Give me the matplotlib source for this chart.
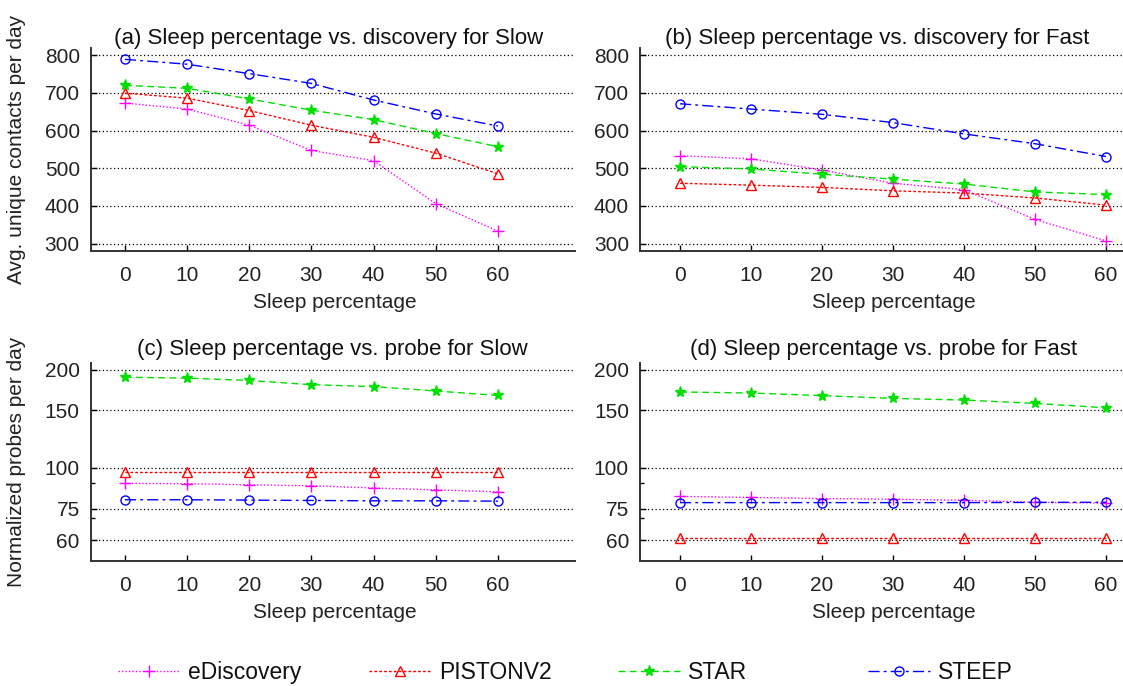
"""Sleep percentage vs. discovery / probe cost — 2x2 panel figure."""

import matplotlib

matplotlib.use("Agg")
import matplotlib.pyplot as plt
from matplotlib.ticker import NullFormatter

plt.rcParams["font.family"] = ["Liberation Sans", "DejaVu Sans"]

# ── data ─────────────────────────────────────────────────────────────────────
sleep = [0, 10, 20, 30, 40, 50, 60]
protocols = ["eDiscovery", "PISTONV2", "STAR", "STEEP"]

# (a) unique contacts, Slow
contacts_slow = {
    "eDiscovery": [673, 657, 614, 547, 520, 406, 333],
    "PISTONV2": [699, 686, 653, 614, 582, 540, 485],
    "STAR": [720, 712, 684, 654, 629, 592, 557],
    "STEEP": [789, 776, 751, 725, 681, 644, 612],
}
# (b) unique contacts, Fast
contacts_fast = {
    "eDiscovery": [533, 525, 495, 460, 443, 364, 307],
    "PISTONV2": [460, 455, 449, 440, 434, 421, 402],
    "STAR": [504, 498, 484, 471, 458, 437, 430],
    "STEEP": [671, 657, 643, 621, 591, 565, 531],
}
# (c) normalized probes, Slow
probes_slow = {
    "eDiscovery": [89.6, 89.4, 88.7, 88.1, 86.7, 85.6, 84.4],
    "PISTONV2": [97.2, 97.2, 97.2, 97.2, 97.2, 97.2, 97.2],
    "STAR": [189.8, 188.5, 185.5, 180.0, 177.6, 172.2, 166.8],
    "STEEP": [79.8, 79.8, 79.6, 79.4, 79.2, 79.2, 79.0],
}
# (d) normalized probes, Fast
probes_fast = {
    "eDiscovery": [81.7, 81.1, 80.5, 80.1, 79.5, 78.4, 77.9],
    "PISTONV2": [60.7, 60.7, 60.7, 60.7, 60.7, 60.7, 60.7],
    "STAR": [171.0, 169.7, 166.6, 163.4, 161.5, 157.7, 152.9],
    "STEEP": [78.2, 78.2, 78.2, 78.2, 78.2, 78.3, 78.4],
}

contact_ticks = [300, 400, 500, 600, 700, 800]
probe_ticks = [60, 75, 100, 150, 200]

titles = [
    "(a) Sleep percentage vs. discovery for Slow",
    "(b) Sleep percentage vs. discovery for Fast",
    "(c) Sleep percentage vs. probe for Slow",
    "(d) Sleep percentage vs. probe for Fast",
]

# gnuplot-ish styles
styles = {
    "eDiscovery": dict(color="#ff00ff", ls=(0, (1, 1.5)), marker="+", ms=8, mfc="none"),
    "PISTONV2": dict(color="#ff0000", ls=(0, (2, 1.5)), marker="^", ms=7, mfc="none"),
    "STAR": dict(color="#00e000", ls=(0, (5, 3)), marker="*", ms=8),
    "STEEP": dict(color="#0000ff", ls=(0, (8, 3, 2, 3)), marker="o", ms=6.5, mfc="none"),
}

FS = 15
TXT = "#222222"

fig = plt.figure(figsize=(11.23, 6.86), dpi=100)

# axes boxes in figure fractions: left, bottom, width, height
boxes = [
    (0.081, 0.634, 0.431, 0.296),
    (0.570, 0.634, 0.430, 0.296),
    (0.081, 0.182, 0.431, 0.289),
    (0.570, 0.182, 0.430, 0.289),
]
xlims = [(-5.47, 72.4), (-5.63, 62.4), (-5.47, 72.4), (-5.63, 62.4)]
panels = [contacts_slow, contacts_fast, probes_slow, probes_fast]
title_x = [0.492, 0.491, 0.498, 0.505]
title_y = [1.02, 1.02, 1.04, 1.04]
xlabel_x = [0.504, 0.526, 0.504, 0.526]

handles = {}
for i, (box, data) in enumerate(zip(boxes, panels)):
    ax = fig.add_axes(box)
    for name in protocols:
        (h,) = ax.plot(sleep, data[name], lw=1.0, mew=1.0, label=name, **styles[name])
        handles[name] = h

    ax.set_xlim(*xlims[i])
    ax.set_xticks(sleep)

    if i < 2:
        ax.set_ylim(280, 819)
        ax.set_yticks(contact_ticks)
        ticks = contact_ticks
    else:
        ax.set_yscale("log")
        ax.set_ylim(51.7, 210)
        ax.set_yticks(probe_ticks)
        ax.set_yticklabels([str(t) for t in probe_ticks])
        ax.set_yticks([70, 90], minor=True)
        ax.yaxis.set_minor_formatter(NullFormatter())
        ticks = probe_ticks

    for t in ticks:
        ax.axhline(t, color="black", lw=0.9, ls=(0, (1, 2)), zorder=0)

    for side in ("top", "right"):
        ax.spines[side].set_visible(False)
    for side in ("left", "bottom"):
        ax.spines[side].set_linewidth(1.4)
        ax.spines[side].set_color("#333333")

    ax.tick_params(axis="both", which="major", direction="in", length=4,
                   width=1.0, labelsize=FS, labelcolor=TXT)
    ax.tick_params(axis="x", pad=11)
    ax.tick_params(axis="y", pad=8)
    ax.tick_params(axis="y", which="minor", direction="in", length=3, width=1.0)

    ax.text(title_x[i], title_y[i], titles[i], transform=ax.transAxes,
            ha="center", va="baseline", fontsize=FS + 1, color="#111111")
    ax.set_xlabel("Sleep percentage", fontsize=FS, color=TXT)
    ax.xaxis.set_label_coords(xlabel_x[i], -0.207 if i < 2 else -0.212)

    if i == 0:
        ax.set_ylabel("Avg. unique contacts per day", fontsize=FS, color=TXT)
        ax.yaxis.set_label_coords(-0.134, 0.5)
    elif i == 2:
        ax.set_ylabel("Normalized probes per day", fontsize=FS, color=TXT)
        ax.yaxis.set_label_coords(-0.134, 0.5)

# ── legend: one entry per slot along the bottom ─────────────────────────────
legend_x = [0.087, 0.310, 0.532, 0.755]
for name, lx in zip(protocols, legend_x):
    fig.legend(handles=[handles[name]], labels=[name], loc="center left",
               bbox_to_anchor=(lx, 0.019), frameon=False, fontsize=16.5,
               handlelength=2.7, handletextpad=0.35, numpoints=1,
               labelcolor="#111111")

fig.savefig("out.png", dpi=100)
plt.close(fig)
